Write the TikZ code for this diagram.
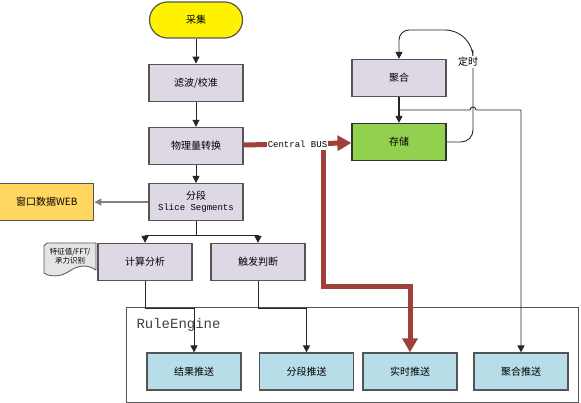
\documentclass[tikz,border=0pt]{standalone}
\usepackage{fontspec}
\setmainfont{Noto Sans CJK SC}
\setmonofont{Liberation Mono}
\usetikzlibrary{arrows.meta, positioning}

\definecolor{boxlav}{HTML}{DDD8E4}
\definecolor{pushblue}{HTML}{B7DDE8}
\definecolor{storegreen}{HTML}{92D050}
\definecolor{webgold}{HTML}{FFD660}
\definecolor{busred}{HTML}{A0403A}
\definecolor{edgegray}{HTML}{555555}

\begin{document}
\begin{tikzpicture}[
  x=1pt, y=-1pt,
  node distance=25pt,
  box/.style={draw=edgegray, line width=1.2pt, fill=boxlav,
              minimum width=94pt, minimum height=37pt, inner sep=1pt,
              align=center, font=\fontsize{10}{12}\selectfont},
  push/.style={box, fill=pushblue},
  arr/.style={-{Triangle[length=7pt,width=7pt]}, line width=0.9pt, draw=black!85},
  bus/.style={-{Triangle[length=14pt,width=15pt]}, line width=5pt, draw=busred}
]
  \useasboundingbox (0,0) rectangle (581,403);

  \node[draw=edgegray, line width=1pt, minimum width=452pt, minimum height=95pt,
        inner sep=0pt, anchor=north west] (re) at (126,307) {};

  \node[anchor=west, font=\ttfamily\fontsize{14}{16}\selectfont, text=black!75]
    (retitle) at (133,325) {RuleEngine};

  \node[box, fill=yellow, rounded corners=18pt, minimum width=93pt,
        minimum height=36pt] (cj) at (196,20) {采集};

  \node[box, below=25pt of cj] (lb) {滤波/校准};

  \node[box, below=25pt of lb] (wl) {物理量转换};

  \node[box, below=18pt of wl] (fd)
    {分段\\[-1pt]{\ttfamily\fontsize{9}{10}\selectfont Slice Segments}};

  \node[box, fill=webgold, left=54pt of fd] (web) {窗口数据WEB};

  \node[box] (js) at (145,262) {计算分析};

  \node[box] (cf) at (258,262) {触发判断};

  \draw[edgegray, fill=gray!20, line width=0.8pt]
    (47,243) -- (96,243) -- (96,270)
    .. controls (84,262) and (74,268) .. (68,272)
    .. controls (60,277) and (50,277) .. (44,273) -- (44,246) -- cycle;

  \node[align=center, inner sep=0pt, font=\fontsize{7.5}{9}\selectfont]
    (fftdoc) at (70,256) {特征值/FFT/\\承力识别};

  \node[box] (jh) at (399,78) {聚合};

  \node[box, fill=storegreen, draw=black!80] (cc) at (399,142) {存储};

  \node[push] (jg) at (194,371.5) {结果推送};

  \node[push] (fdts) at (306.5,371.5) {分段推送};

  \node[push] (ss) at (410,371.5) {实时推送};

  \node[push] (jhts) at (521,371.5) {聚合推送};

  \draw[arr] (cj) -- (lb);
  \draw[arr] (lb) -- (wl);
  \draw[arr] (wl) -- (fd);
  \draw[arr, draw=gray, line width=1.2pt] (fd) -- (web);

  \draw[arr] (fd.south) -- ++(0,14) -| (js.north);
  \draw[arr] (fd.south) -- ++(0,14) -| (cf.north);

  \draw[arr] (js.south) -- ++(0,27) -| (jg.north);
  \draw[arr] (cf.south) -- ++(0,27) -| (fdts.north);

  \draw[arr, line width=1.2pt] (jh) -- (cc);

  \draw[arr, rounded corners=12pt] (cc.east) -- (473,142) -- (473,62)
    [rounded corners=28pt] -- (473,30) [rounded corners=10pt] -- (399,30)
    -- (jh.north);

  \node[fill=white, inner sep=1pt, font=\fontsize{10}{12}\selectfont]
    (timer) at (468,62) {定时};

  \coordinate (aggsplit) at (399,110);
  \draw[arr] (aggsplit) -- (470,110) arc[start angle=180, end angle=0, radius=3pt]
    -- (521,110) -- (jhts.north);

  \draw[bus] (wl) -- node[fill=white, inner sep=1pt,
    font=\ttfamily\fontsize{9}{10}\selectfont] (buslabel) {Central BUS} (cc);

  \coordinate (busdrop) at (323,150);
  \draw[bus] (busdrop) -- (323,287) -| (ss.north);
\end{tikzpicture}
\end{document}
